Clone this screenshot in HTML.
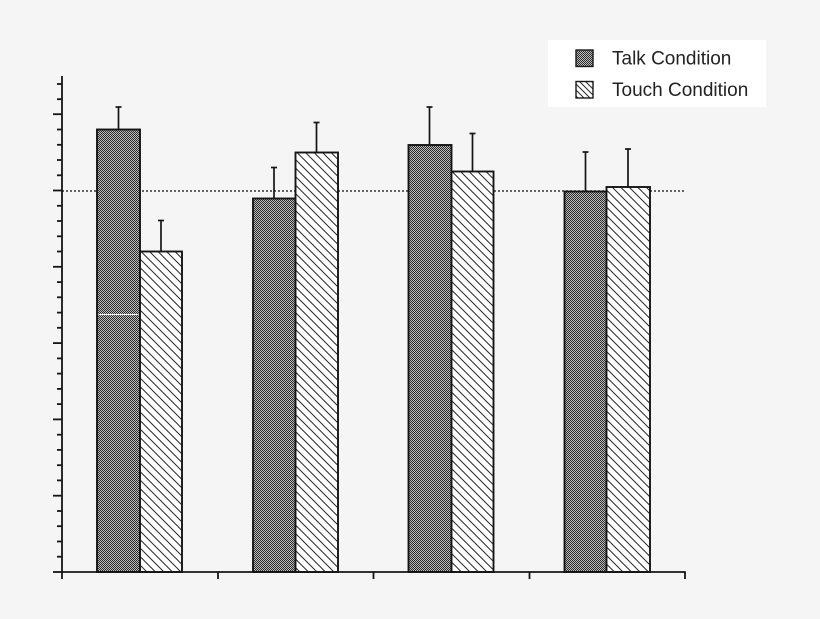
<!DOCTYPE html>
<html>
<head>
<meta charset="utf-8">
<style>
  html, body { margin:0; padding:0; background:#f5f5f5; }
  body { width:820px; height:619px; overflow:hidden; }
  svg { display:block; }
  text { font-family: "Liberation Sans", Arial, sans-serif; }
</style>
</head>
<body>
<svg width="820" height="619" viewBox="0 0 820 619" xmlns="http://www.w3.org/2000/svg">
  <defs>
    <pattern id="check" width="2" height="2" patternUnits="userSpaceOnUse">
      <rect x="0" y="0" width="2" height="2" fill="#bdbdbd"/>
      <rect x="0" y="0" width="1" height="1" fill="#2a2a2a"/>
      <rect x="1" y="1" width="1" height="1" fill="#2a2a2a"/>
    </pattern>
    <pattern id="hatch" width="8.5" height="8.5" patternUnits="userSpaceOnUse">
      <rect x="0" y="0" width="8.5" height="8.5" fill="#ffffff"/>
      <path d="M-1,-1 L9.5,9.5 M-1,7.5 L1,9.5 M7.5,-1 L9.5,1" stroke="#2a2a2a" stroke-width="1"/>
    </pattern>
    <pattern id="hatchS" width="6" height="6" patternUnits="userSpaceOnUse">
      <rect x="0" y="0" width="6" height="6" fill="#ffffff"/>
      <path d="M-1,-1 L7,7 M-1,5 L1,7 M5,-1 L7,1" stroke="#2a2a2a" stroke-width="1"/>
    </pattern>
  </defs>

  <rect x="0" y="0" width="820" height="619" fill="#f5f5f5"/>

  <!-- reference dotted line -->
  <line x1="62" y1="191" x2="684" y2="191" stroke="#333" stroke-width="1.4" stroke-dasharray="2,2"/>

  <g stroke="#151515" stroke-width="1.9">
  <!-- Group 1 -->
  <rect x="97" y="129.5" width="43" height="442.5" fill="url(#check)"/>
  <rect x="140" y="251.5" width="42" height="320.5" fill="url(#hatch)"/>
  <!-- Group 2 -->
  <rect x="253" y="198.5" width="42.5" height="373.5" fill="url(#check)"/>
  <rect x="295.5" y="152.5" width="42.5" height="419.5" fill="url(#hatch)"/>
  <!-- Group 3 -->
  <rect x="408.5" y="145" width="43" height="427" fill="url(#check)"/>
  <rect x="451.5" y="171.5" width="42" height="400.5" fill="url(#hatch)"/>
  <!-- Group 4 -->
  <rect x="564.5" y="191.5" width="42" height="380.5" fill="url(#check)"/>
  <rect x="606.5" y="187" width="43.5" height="385" fill="url(#hatch)"/>
  </g>
  <line x1="98.5" y1="314.5" x2="138.5" y2="314.5" stroke="#ffffff" stroke-width="1"/>

  <g stroke="#151515" stroke-width="1.7">
  <line x1="118.5" y1="129.5" x2="118.5" y2="107"/>
  <line x1="115.5" y1="107" x2="121.5" y2="107"/>
  <line x1="161" y1="251.5" x2="161" y2="220.5"/>
  <line x1="158" y1="220.5" x2="164" y2="220.5"/>
  <line x1="274" y1="198.5" x2="274" y2="167.5"/>
  <line x1="271" y1="167.5" x2="277" y2="167.5"/>
  <line x1="316.5" y1="152.5" x2="316.5" y2="122.5"/>
  <line x1="313.5" y1="122.5" x2="319.5" y2="122.5"/>
  <line x1="429.5" y1="145" x2="429.5" y2="107"/>
  <line x1="426.5" y1="107" x2="432.5" y2="107"/>
  <line x1="472.5" y1="171.5" x2="472.5" y2="133.5"/>
  <line x1="469.5" y1="133.5" x2="475.5" y2="133.5"/>
  <line x1="585.5" y1="191.5" x2="585.5" y2="152"/>
  <line x1="582.5" y1="152" x2="588.5" y2="152"/>
  <line x1="628" y1="187" x2="628" y2="149"/>
  <line x1="625" y1="149" x2="631" y2="149"/>
  </g>

  <!-- Y axis -->
  <g stroke="#151515" stroke-width="1.8">
    <line x1="62" y1="76" x2="62" y2="572.8"/>
    <line x1="57" y1="84" x2="62" y2="84"/>
    <line x1="57" y1="99.2" x2="62" y2="99.2"/>
    <line x1="53" y1="114.2" x2="62" y2="114.2"/>
    <line x1="57" y1="129.5" x2="62" y2="129.5"/>
    <line x1="57" y1="144.8" x2="62" y2="144.8"/>
    <line x1="57" y1="160" x2="62" y2="160"/>
    <line x1="57" y1="175.3" x2="62" y2="175.3"/>
    <line x1="53" y1="190.5" x2="62" y2="190.5"/>
    <line x1="57" y1="205.8" x2="62" y2="205.8"/>
    <line x1="57" y1="221" x2="62" y2="221"/>
    <line x1="57" y1="236.3" x2="62" y2="236.3"/>
    <line x1="57" y1="251.5" x2="62" y2="251.5"/>
    <line x1="53" y1="266.8" x2="62" y2="266.8"/>
    <line x1="57" y1="282.1" x2="62" y2="282.1"/>
    <line x1="57" y1="297.3" x2="62" y2="297.3"/>
    <line x1="57" y1="312.6" x2="62" y2="312.6"/>
    <line x1="57" y1="327.8" x2="62" y2="327.8"/>
    <line x1="53" y1="343.1" x2="62" y2="343.1"/>
    <line x1="57" y1="358.4" x2="62" y2="358.4"/>
    <line x1="57" y1="373.6" x2="62" y2="373.6"/>
    <line x1="57" y1="388.9" x2="62" y2="388.9"/>
    <line x1="57" y1="404.1" x2="62" y2="404.1"/>
    <line x1="53" y1="419.4" x2="62" y2="419.4"/>
    <line x1="57" y1="434.7" x2="62" y2="434.7"/>
    <line x1="57" y1="449.9" x2="62" y2="449.9"/>
    <line x1="57" y1="465.2" x2="62" y2="465.2"/>
    <line x1="57" y1="480.4" x2="62" y2="480.4"/>
    <line x1="53" y1="495.7" x2="62" y2="495.7"/>
    <line x1="57" y1="511" x2="62" y2="511"/>
    <line x1="57" y1="526.2" x2="62" y2="526.2"/>
    <line x1="57" y1="541.5" x2="62" y2="541.5"/>
    <line x1="57" y1="556.7" x2="62" y2="556.7"/>
    <line x1="53" y1="572" x2="62" y2="572"/>
  </g>

  <!-- X axis -->
  <g stroke="#151515" stroke-width="1.8">
    <line x1="61.2" y1="572" x2="685.8" y2="572"/>
    <line x1="62" y1="572" x2="62" y2="579"/>
    <line x1="218" y1="572" x2="218" y2="579"/>
    <line x1="373.5" y1="572" x2="373.5" y2="579"/>
    <line x1="529.5" y1="572" x2="529.5" y2="579"/>
    <line x1="685" y1="572" x2="685" y2="579"/>
  </g>

  <!-- Legend -->
  <rect x="548" y="40" width="218" height="67" fill="#ffffff"/>
  <rect x="576" y="50" width="17" height="16.5" fill="url(#check)" stroke="#1a1a1a" stroke-width="1.4"/>
  <rect x="576" y="81.5" width="17" height="16.5" fill="url(#hatchS)" stroke="#1a1a1a" stroke-width="1.4"/>
  <text x="612" y="64.5" font-size="19" fill="#222">Talk Condition</text>
  <text x="612" y="96" font-size="19" fill="#222">Touch Condition</text>
</svg>
</body>
</html>
